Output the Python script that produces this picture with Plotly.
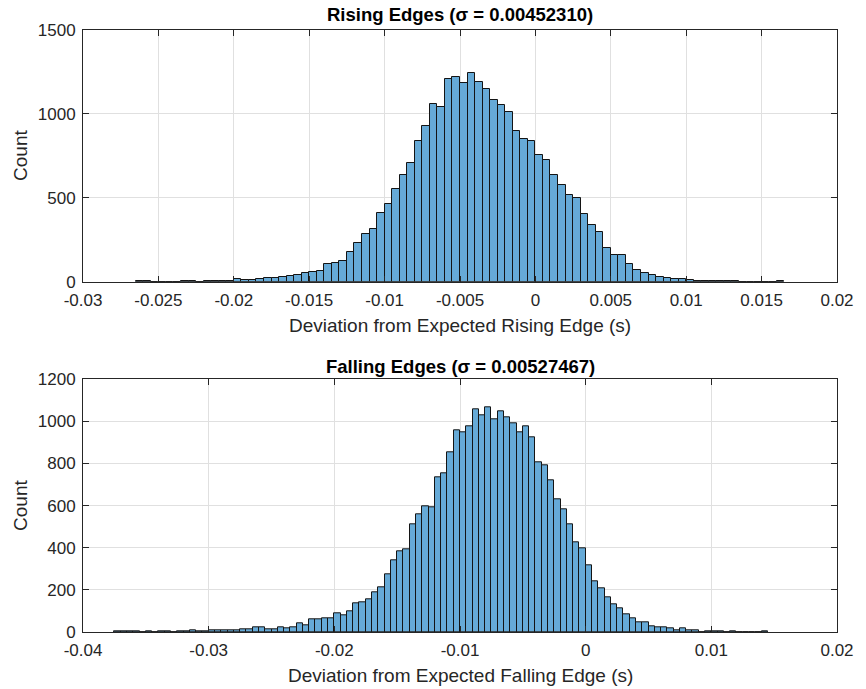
import numpy as np
import plotly.graph_objects as go

# ---------------- data ----------------
bin_width = 0.0005

rising_start = -0.0265
rising_counts = [
    2, 2, 0, 1, 0, 0, 2, 2, 0, 2, 2, 3, 3,            # -0.0265 .. -0.0205
    14, 10, 8, 14, 20, 20, 30, 35, 41, 53, 57,        # -0.02 .. -0.015
    65, 105, 114, 125, 176, 233, 284, 312, 410, 461,  # -0.0145 .. -0.01
    551, 633, 706, 839, 928, 1057, 1043, 1208, 1222, 1186,  # -0.0095 .. -0.005
    1243, 1190, 1151, 1083, 1055, 1010, 896, 851, 839,      # -0.0045 .. -0.0005
    755, 723, 636, 575, 516, 496, 404, 339, 299, 203,       # 0 .. 0.0045
    161, 161, 108, 69, 49, 39, 28, 22, 14, 18,              # 0.005 .. 0.0095
    8, 5, 3, 2, 2, 2, 2, 0, 0, 0, 1, 0, 2,                  # 0.01 .. 0.016
]

falling_start = -0.0375
falling_counts = [
    2, 3, 3, 2, 0, 2, 0, 3, 3, 0, 3, 3, 8, 3, 4,       # -0.0375 .. -0.0305
    6, 6, 6, 6, 7, 12, 12, 22, 20, 12,                 # -0.03 .. -0.0255
    12, 20, 16, 20, 41, 31, 60, 62, 64, 64,            # -0.025 .. -0.0205
    91, 78, 98, 134, 141, 153, 189, 214, 274, 340,     # -0.02 .. -0.0155
    385, 392, 512, 561, 599, 591, 734, 756, 855, 960,  # -0.015 .. -0.0105
    947, 975, 1056, 1029, 1066, 1012, 1050, 1018, 993, 950,  # -0.01 .. -0.0055
    977, 926, 805, 792, 719, 631, 585, 512, 424, 398,        # -0.005 .. -0.0005
    316, 240, 208, 167, 133, 112, 84, 67, 45, 45,            # 0 .. 0.0045
    27, 22, 20, 17, 9, 19, 9, 6, 0, 5,                       # 0.005 .. 0.0095
    4, 3, 0, 4, 0, 0, 0, 0, 3,                               # 0.01 .. 0.014
]

rising_title = "Rising Edges (σ = 0.00452310)"
falling_title = "Falling Edges (σ = 0.00527467)"
rising_xlabel = "Deviation from Expected Rising Edge (s)"
falling_xlabel = "Deviation from Expected Falling Edge (s)"
ylabel = "Count"

rising_xticks = [-0.03, -0.025, -0.02, -0.015, -0.01, -0.005, 0, 0.005, 0.01, 0.015, 0.02]
rising_xticklabels = ["-0.03", "-0.025", "-0.02", "-0.015", "-0.01", "-0.005", "0", "0.005", "0.01", "0.015", "0.02"]
rising_yticks = [0, 500, 1000, 1500]
falling_xticks = [-0.04, -0.03, -0.02, -0.01, 0, 0.01, 0.02]
falling_xticklabels = ["-0.04", "-0.03", "-0.02", "-0.01", "0", "0.01", "0.02"]
falling_yticks = [0, 200, 400, 600, 800, 1000, 1200]


def centers(start, counts):
    return [start + bin_width * (i + 0.5) for i in range(len(counts))]


FILL = "rgb(102,170,215)"
EDGE = "rgb(20,20,20)"
AXC = "rgb(38,38,38)"
GRID = "rgb(224,224,224)"
FONT = "Liberation Sans, Arial, Helvetica, sans-serif"

fig = go.Figure()
fig.add_trace(go.Bar(x=centers(rising_start, rising_counts), y=rising_counts, width=bin_width,
                     marker=dict(color=FILL, line=dict(color=EDGE, width=1)),
                     xaxis="x", yaxis="y", showlegend=False, hoverinfo="x+y"))
fig.add_trace(go.Bar(x=centers(falling_start, falling_counts), y=falling_counts, width=bin_width,
                     marker=dict(color=FILL, line=dict(color=EDGE, width=1)),
                     xaxis="x2", yaxis="y2", showlegend=False, hoverinfo="x+y"))

L, R, T, B = 83, 18, 30, 57
W, H = 866, 689
ph = H - T - B


def py(pix):
    return (H - B - pix) / ph


def px(pix):
    return (pix - L) / (W - L - R)


axis_common = dict(showline=True, linecolor=AXC, linewidth=1, mirror="ticks",
                   ticks="inside", ticklen=6, tickcolor=AXC, tickwidth=1,
                   showgrid=True, gridcolor=GRID, gridwidth=1, zeroline=False,
                   tickfont=dict(family=FONT, size=17, color=AXC))

fig.update_layout(
    width=W, height=H,
    margin=dict(l=L, r=R, t=T, b=B),
    paper_bgcolor="white", plot_bgcolor="white",
    bargap=0,
    xaxis=dict(domain=[0, 1], anchor="y", range=[-0.03, 0.02], tickvals=rising_xticks,
               ticktext=rising_xticklabels, ticklabelstandoff=3, **axis_common),
    yaxis=dict(domain=[py(281.7), 1], anchor="x", range=[0, 1500], tickvals=rising_yticks,
               ticklabelstandoff=3, **axis_common),
    xaxis2=dict(domain=[0, 1], anchor="y2", range=[-0.04, 0.02], tickvals=falling_xticks,
                ticktext=falling_xticklabels, ticklabelstandoff=3, **axis_common),
    yaxis2=dict(domain=[0, py(379.3)], anchor="x2", range=[0, 1200], tickvals=falling_yticks,
                ticklabelstandoff=3, **axis_common),
)

ann = []
ann.append(dict(text="<b>" + rising_title + "</b>", x=0.5, y=py(15), xref="paper", yref="paper",
                showarrow=False, xanchor="center", yanchor="middle",
                font=dict(family=FONT, size=18.5, color="black")))
ann.append(dict(text="<b>" + falling_title + "</b>", x=0.5, y=py(366), xref="paper", yref="paper",
                showarrow=False, xanchor="center", yanchor="middle",
                font=dict(family=FONT, size=18.5, color="black")))
ann.append(dict(text=rising_xlabel, x=0.5, y=py(325), xref="paper", yref="paper",
                showarrow=False, xanchor="center", yanchor="middle",
                font=dict(family=FONT, size=19, color=AXC)))
ann.append(dict(text=falling_xlabel, x=0.5, y=py(675), xref="paper", yref="paper",
                showarrow=False, xanchor="center", yanchor="middle",
                font=dict(family=FONT, size=19, color=AXC)))
ann.append(dict(text=ylabel, x=px(19), y=py(155), xref="paper", yref="paper", textangle=-90,
                showarrow=False, xanchor="center", yanchor="middle",
                font=dict(family=FONT, size=19, color=AXC)))
ann.append(dict(text=ylabel, x=px(19), y=py(505), xref="paper", yref="paper", textangle=-90,
                showarrow=False, xanchor="center", yanchor="middle",
                font=dict(family=FONT, size=19, color=AXC)))
fig.update_layout(annotations=ann)

fig.write_html("out.html")
